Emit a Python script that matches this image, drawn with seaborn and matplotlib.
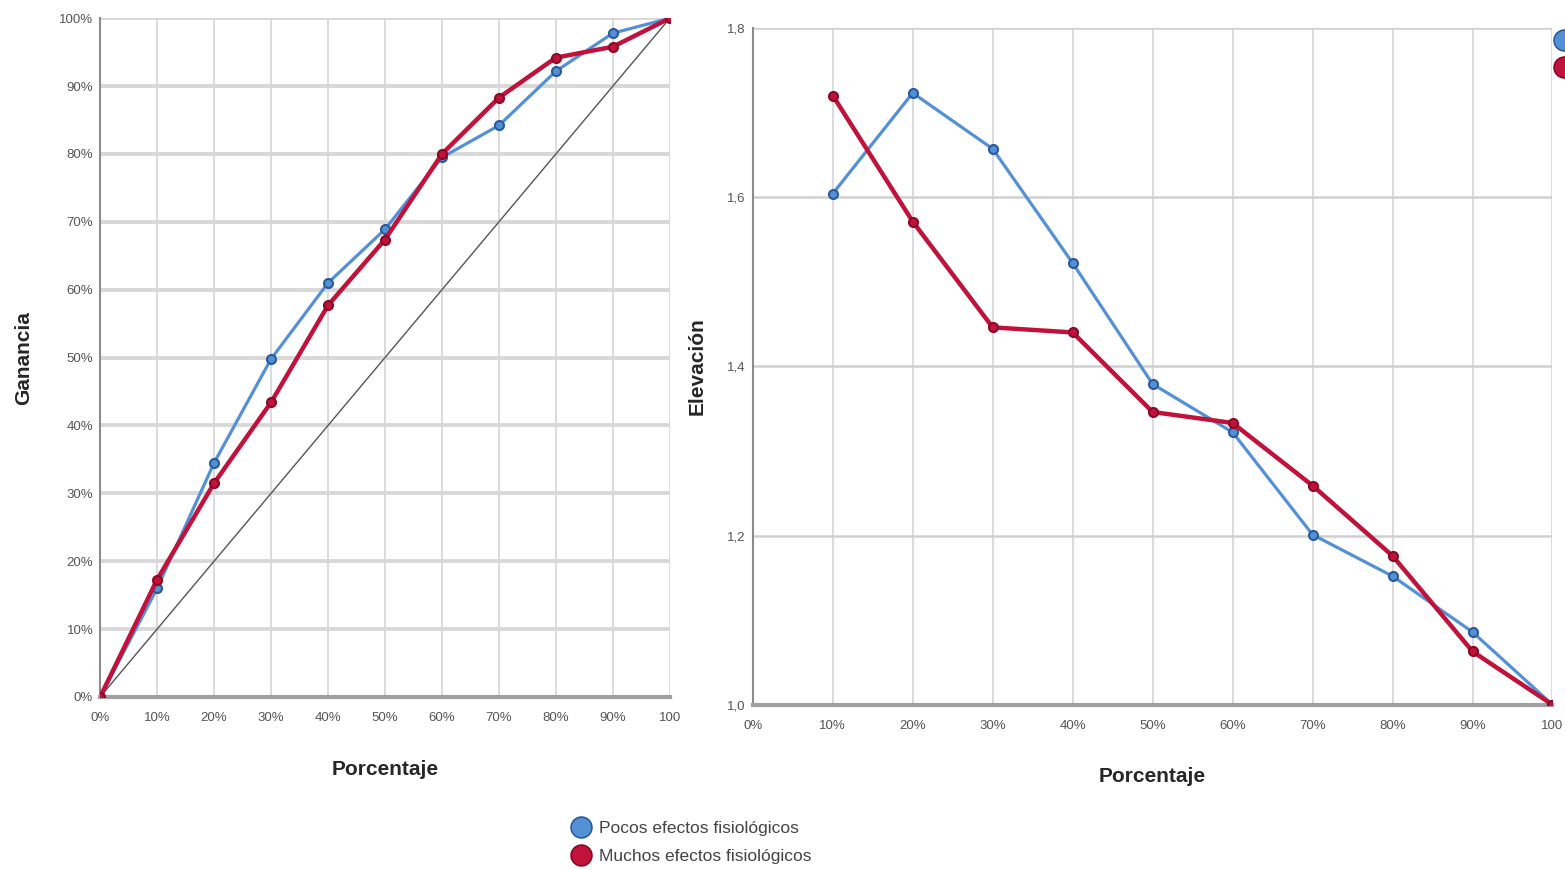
import pandas as pd
import matplotlib.pyplot as plt
import matplotlib.lines as mlines
import seaborn as sns
import numpy as np

# Data
porcentaje = [0, 10, 20, 30, 40, 50, 60, 70, 80, 90, 100]
ganancia_pocos = [0, 16.0, 34.5, 49.8, 61.0, 68.9, 79.5, 84.2, 92.2, 97.8, 100]
ganancia_muchos = [0, 17.3, 31.5, 43.4, 57.7, 67.4, 80.0, 88.3, 94.2, 95.8, 100]

porcentaje_elev = [10, 20, 30, 40, 50, 60, 70, 80, 90, 100]
elevacion_pocos = [1.604, 1.723, 1.657, 1.522, 1.379, 1.322, 1.201, 1.152, 1.086, 1.0]
elevacion_muchos = [1.720, 1.571, 1.446, 1.440, 1.346, 1.333, 1.259, 1.176, 1.063, 1.0]

grupos = ['Pocos efectos fisiológicos', 'Muchos efectos fisiológicos']
x_ticklabels = ['0%', '10%', '20%', '30%', '40%', '50%', '60%', '70%', '80%', '90%', '100']
gan_ticklabels = ['0%', '10%', '20%', '30%', '40%', '50%', '60%', '70%', '80%', '90%', '100%']
elev_ticks = [1.0, 1.2, 1.4, 1.6, 1.8]
elev_ticklabels = ['1,0', '1,2', '1,4', '1,6', '1,8']

df_gan = pd.DataFrame({
    'Porcentaje': porcentaje * 2,
    'Ganancia': ganancia_pocos + ganancia_muchos,
    'Grupo': [grupos[0]] * len(porcentaje) + [grupos[1]] * len(porcentaje),
})
df_elev = pd.DataFrame({
    'Porcentaje': porcentaje_elev * 2,
    'Elevacion': elevacion_pocos + elevacion_muchos,
    'Grupo': [grupos[0]] * len(porcentaje_elev) + [grupos[1]] * len(porcentaje_elev),
})

sns.set_style("white")
plt.rcParams['font.family'] = ['Liberation Sans Narrow', 'Liberation Sans', 'DejaVu Sans']

palette = {grupos[0]: '#5490d6', grupos[1]: '#c0123a'}
edges = {grupos[0]: '#2c5a99', grupos[1]: '#8a0a26'}
widths = {grupos[0]: 2.3, grupos[1]: 3.2}
tick_color = '#555555'

fig = plt.figure(figsize=(15.65, 8.69), dpi=100)
ax1 = fig.add_axes([0.064, 0.198, 0.364, 0.781])
ax2 = fig.add_axes([0.481, 0.189, 0.511, 0.779])


def style_axes(ax):
    ax.grid(False)
    for v in range(0, 101, 10):
        ax.axvline(v, color='#d8d8d8', lw=1.3, zorder=0)
    for s in ['top', 'right']:
        ax.spines[s].set_visible(False)
    ax.spines['left'].set_color('#8c8c8c')
    ax.spines['left'].set_linewidth(1.5)
    ax.spines['bottom'].set_color('#a0a0a0')
    ax.spines['bottom'].set_linewidth(3)
    ax.tick_params(axis='y', length=0, labelsize=9.5, colors=tick_color, pad=5)
    ax.tick_params(axis='x', length=0, labelsize=9.5, colors=tick_color, pad=11)
    ax.set_xticks(porcentaje)
    ax.set_xticklabels(x_ticklabels)
    ax.set_xlim(0, 100)


# Ganancia
for g in grupos:
    sub = df_gan[df_gan['Grupo'] == g]
    sns.lineplot(data=sub, x='Porcentaje', y='Ganancia', ax=ax1, color=palette[g],
                 lw=widths[g], marker='o', markersize=6.5, markeredgecolor=edges[g],
                 markeredgewidth=1.5, markerfacecolor=palette[g], zorder=3)
ax1.plot([0, 100], [0, 100], color='#555555', lw=1.0, zorder=2)
style_axes(ax1)
for v in range(10, 101, 10):
    ax1.axhline(v, color='#d8d8d8', lw=2.8, zorder=0)
ax1.set_ylim(0, 100)
ax1.set_yticks(porcentaje)
ax1.set_yticklabels(gan_ticklabels)
ax1.set_xlabel('Porcentaje', fontsize=15, fontweight='bold', labelpad=26)
ax1.set_ylabel('Ganancia', fontsize=15, fontweight='bold', labelpad=19)

# Elevacion
for g in grupos:
    sub = df_elev[df_elev['Grupo'] == g]
    sns.lineplot(data=sub, x='Porcentaje', y='Elevacion', ax=ax2, color=palette[g],
                 lw=widths[g], marker='o', markersize=6.5, markeredgecolor=edges[g],
                 markeredgewidth=1.5, markerfacecolor=palette[g], zorder=3)
style_axes(ax2)
for v in elev_ticks[1:]:
    ax2.axhline(v, color='#d0d0d0', lw=1.8, zorder=0)
ax2.set_ylim(1.0, 1.8)
ax2.set_yticks(elev_ticks)
ax2.set_yticklabels(elev_ticklabels)
ax2.set_xlabel('Porcentaje', fontsize=15, fontweight='bold', labelpad=25)
ax2.set_ylabel('Elevación', fontsize=15, fontweight='bold', labelpad=15)
for lab in ax2.get_xticklabels():
    lab.set_clip_on(False)

handles = [mlines.Line2D([], [], ls='none', marker='o', markersize=15,
                         markerfacecolor=palette[g], markeredgecolor=edges[g],
                         markeredgewidth=1.2, label=g) for g in grupos]
fig.legend(handles=handles, loc='upper left', bbox_to_anchor=(0.356, 0.063),
           frameon=False, fontsize=12.5, handletextpad=0.0, labelspacing=0.7,
           labelcolor='#444444', borderaxespad=0)
# legend markers of the right chart, cut off by the picture border
fig.legend(handles=handles, labels=[' ', ' '], loc='upper left',
           bbox_to_anchor=(0.9935, 0.961), frameon=False, fontsize=12.5,
           handlelength=1.0, handletextpad=0.0, labelspacing=0.7,
           borderpad=0, borderaxespad=0)

plt.savefig('out.png', dpi=100)
